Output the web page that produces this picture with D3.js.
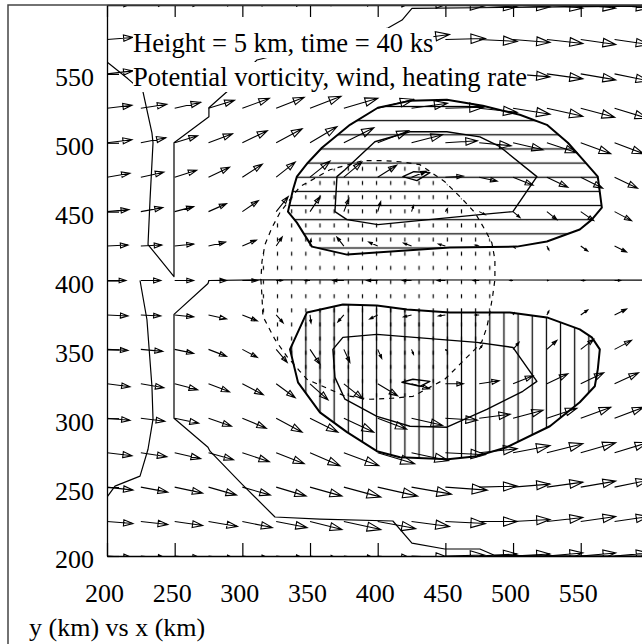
<!DOCTYPE html>
<html>
<head>
<meta charset="utf-8">
<script src="https://cdn.jsdelivr.net/npm/d3@7"></script>
<style>
  body { margin: 0; background: #fff; }
  svg { display: block; }
</style>
</head>
<body>
<svg id="chart" width="642" height="644"></svg>
<script>
// ---- grid of wind vectors (km) ----
const gridX = [200, 225, 250, 275, 300, 325, 350, 375, 400, 425, 450, 475, 500, 525, 550, 575];
const gridY = [600, 575, 550, 525, 500, 475, 450, 425, 400, 375, 350, 325, 300, 275, 250, 225, 200];

// eastward wind u (m/s), one row per gridY entry
const uWind = [
  [13, 13.5, 14, 14.5, 15, 15.5, 16, 18, 18.5, 19, 19.5, 19, 18.5, 18, 17.5, 17],
  [13, 13.5, 14, 14.5, 15, 15.5, 16, 18.5, 19, 19, 20, 19, 18.5, 18, 17.5, 17],
  [13, 13.5, 14, 14, 14, 15, 16, 18.5, 20, 20, 21, 19, 18.5, 18, 17.5, 17],
  [12.5, 13, 13, 13, 13.5, 14, 15.5, 17, 18, 18, 19, 19, 18.5, 18, 17, 16.5],
  [12.5, 12.5, 11.5, 12, 12.5, 13, 13.5, 15, 15.5, 15.5, 16, 16, 15, 15, 15, 14.5],
  [11.5, 11.5, 11, 10.5, 10, 9.5, 10, 9, 9.5, 7.5, 9, 9, 10, 10.5, 11, 11.5],
  [11, 11, 9.5, 9, 8, 6, 5, 2.5, 1.5, 1, 1, 3, 3.5, 5, 6.5, 8.5],
  [10.5, 10.5, 9.5, 8.5, 7, 3, 0.5, -3.5, -4.5, -4, -3.5, -2, 1, 1, 3.5, 6],
  [9.5, 10, 9.5, 9, 7.5, 3, -2.5, -5.5, -5.5, -4.5, -4, -3, -1.5, 0.5, 2, 3],
  [10.5, 10, 9.5, 9, 7.5, 3.5, 0.5, -3, -4, -4, -3.5, -2, 0.5, 1, 3.5, 6],
  [10.5, 11, 9.5, 9, 7.5, 5.5, 5, 3, 2, 1, 0.5, 1.5, 3, 5, 6.5, 8.5],
  [11.5, 11.5, 11.5, 10.5, 10.5, 9.5, 9, 9.5, 10, 9, 9, 10, 10, 10.5, 11.5, 12],
  [11.5, 12, 12, 11.5, 12, 13, 14, 15, 14.5, 15.5, 16, 15.5, 15, 15, 15, 14.5],
  [12.5, 13, 13, 12.5, 13.5, 14, 15, 17.5, 18.5, 18.5, 20, 19, 18.5, 18, 17.5, 16.5],
  [13, 13.5, 14, 14, 14, 15, 16, 18.5, 20, 20, 21, 19, 18.5, 18, 17.5, 17],
  [13, 13.5, 14, 14.5, 15, 15.5, 16, 18.5, 19, 19, 20, 19, 18.5, 18, 17.5, 17],
  [13, 13.5, 14, 14.5, 15, 15.5, 16, 18, 18.5, 19, 19.5, 19, 18.5, 18, 17.5, 17]
];

// northward wind v (m/s), one row per gridY entry
const vWind = [
  [1, 1.5, 1.5, 2, 2, 2, 2.5, 2.5, 2, 1, -0.5, -1, -1, -1.5, -1.5, -1.5],
  [1, 1.5, 2, 2.5, 3, 3, 4, 4, 3.5, 2.5, 0.5, -1, -1.5, -2, -2.5, -2.5],
  [1.5, 2.5, 3, 4, 4, 4.5, 4.5, 5, 4.5, 3.5, 1.5, -0.5, -1.5, -2.5, -3, -3.5],
  [1.5, 2, 3, 4, 5, 5.5, 6, 5, 4.5, 2.5, 0.5, -2, -3, -4, -4.5, -5],
  [1.5, 2.5, 3.5, 4.5, 6, 7, 8, 7.5, 6, 4, 1, -1.5, -3.5, -5, -5.5, -5.5],
  [2, 2.5, 3.5, 5, 6.5, 7.5, 8, 7.5, 6, 3, 0.5, -2, -4, -5, -5.5, -5.5],
  [1, 2, 2.5, 4, 5.5, 7.5, 7.5, 6.5, 5, 3, 1.5, -1.5, -3, -4, -4.5, -4.5],
  [0.5, 0.5, 1, 2, 3, 4.5, 3.5, 4.5, 2, 1.5, 1, 0.5, -1, -2, -2.5, -3],
  [0, 0, 0, 0, 0, 0, 0, 0, 0, 0, 0, 0, 0, 0, 0, 0],
  [-0.5, -0.5, -1, -2, -3, -4, -4, -3.5, -2, -1, -0.5, 0, 1, 2, 2.5, 3],
  [-0.5, -1, -2, -3.5, -4, -6.5, -7.5, -6.5, -4.5, -2.5, -0.5, 2, 3.5, 4.5, 5, 4.5],
  [-1.5, -2, -3, -4, -5.5, -7, -8, -7.5, -6, -2.5, 0, 1.5, 4, 5, 5.5, 5.5],
  [-1, -1.5, -2.5, -4, -5, -7, -7, -7, -5.5, -3.5, -1, 2, 4, 5, 5.5, 5.5],
  [-1.5, -2, -3, -3.5, -4.5, -5.5, -6.5, -6.5, -5.5, -4, -1, 2, 3.5, 4.5, 5, 5],
  [-1.5, -2.5, -3, -4, -4, -4.5, -4.5, -5, -4.5, -3.5, -1.5, 0.5, 1.5, 2.5, 3, 3.5],
  [-1, -1.5, -2, -2.5, -3, -3, -4, -4, -3.5, -2.5, -1, 0, 1, 2, 2.5, 2.5],
  [-1, -1.5, -1.5, -2, -2, -2, -2.5, -2.5, -2, -1, 0.5, 1, 1, 1.5, 1.5, 1.5]
];

// ---- potential vorticity contours, [x km, y km] ----
const pvContourA = [[195, 562], [200, 558.7], [215.5, 546.4], [226.6, 537], [233.2, 507.2], [234, 500], [231.8, 458.7],
  [230.3, 426.1], [249.5, 402.9], [249.5, 500], [275.3, 518.8], [275.3, 525.4], [288.6, 537], [310.8, 560.1],
  [407.6, 583.3], [418, 589.1], [425.3, 597.5], [490.3, 598.2], [610, 599.3]];
const pvContourB = [[224.4, 400], [229.5, 371.7], [233.2, 323.2], [234, 299.3], [230.3, 277.5], [224.4, 258],
  [205.9, 250.7], [200, 242.8], [195, 238]];
const pvContourC = [[610, 400.3], [313, 400.5], [275.3, 400], [274.6, 397.8], [249.5, 375.4], [249.5, 300],
  [274.6, 279], [276.1, 276.1], [299.7, 252.2], [324.1, 228.3], [357.3, 226.8], [411.2, 225.4], [425.3, 209.4],
  [449.6, 205.1], [475.5, 205.1], [486.6, 200.4], [610, 199.8]];

// ---- heating rate contours ----
const heatingUpOuter = [[340.3, 475.4], [348.4, 485.5], [358.8, 496.4], [379.5, 513], [400.1, 525.4], [423.8, 530.4],
  [451.1, 531.2], [477.7, 526.8], [505, 520.3], [525, 513], [540.5, 500], [551.6, 487.7], [562.6, 475.4],
  [565.6, 452.9], [558.2, 444.2], [549.3, 437], [525, 428.3], [502.8, 424.6], [453.3, 423.9], [377.3, 418.8],
  [351.4, 424.6], [340.3, 442], [333.7, 450], [337.4, 465.9]];
const heatingUpInner = [[369.9, 475.4], [375.8, 480.4], [397.9, 500.7], [423.8, 508], [451.1, 508], [475.5, 504.3],
  [490.3, 497.1], [517.6, 475.4], [499.9, 450], [475.5, 447.8], [400.1, 440.6], [377.3, 444.2], [368.4, 450]];
const heatingUpPeak = [[418.6, 475.4], [426.7, 479], [438.6, 478.3], [429, 472.5]];

const heatingLowOuter = [[347.7, 376.8], [374.3, 382.6], [399.4, 381.9], [421.6, 379], [453.3, 376.8], [497.6, 376.8],
  [525, 373.2], [549.3, 364.5], [558.2, 358.7], [564.1, 350], [562.6, 335.5], [560.4, 323.2], [549.3, 311.6],
  [527.2, 294.2], [495.4, 279], [473.3, 272.5], [451.8, 270.3], [416.4, 271.7], [399.4, 276.1], [377.3, 289.9],
  [357.3, 304.3], [341.1, 326.1], [335.2, 350]];
const heatingLowInner = [[366.9, 350], [374.3, 358.7], [399.4, 360.9], [473.3, 355.1], [499.9, 351.4], [517.6, 326.8],
  [507.2, 319.6], [480.6, 306.5], [451.1, 293.5], [423.8, 294.2], [399.4, 301.4], [375.8, 313.8], [368.4, 329.7]];
const heatingLowPeak = [[417.9, 326.1], [426, 328.3], [438.6, 326.8], [431.2, 323.2]];

// cooling (negative heating) region, dashed
const coolingRegion = [[313.7, 400.7], [314.5, 388.4], [315.2, 373.9], [324.1, 357.2], [332.9, 344.9], [342.5, 334.1],
  [347.7, 328.3], [374.3, 316.7], [394.2, 313.8], [410.5, 314.5], [426, 315.9], [449.6, 328.3], [457, 335.5],
  [464.4, 342.8], [471.8, 350], [477, 355.8], [480.6, 365.9], [482.9, 376.8], [485.1, 389.9], [486.6, 400.7],
  [486.6, 415.2], [484.3, 427.5], [479.2, 436.9], [471.8, 449.3], [462.9, 458.7], [449.6, 471.7], [431.2, 484.1],
  [416.4, 486.2], [405.3, 487], [389.1, 487], [364.7, 480.4], [342.5, 468.1], [327.8, 449.3], [321.9, 438.4],
  [316.7, 426.1], [314.5, 413.8]];

// ---- ticks and texts ----
const xTicks = [200, 250, 300, 350, 400, 450, 500, 550];
const yTicks = [200, 250, 300, 350, 400, 450, 500, 550];
const titleLines = ["Height = 5 km, time = 40 ks", "Potential vorticity, wind, heating rate"];
const axisCaption = "y (km) vs x (km)";

// ---- drawing ----
const FONT = "'Liberation Serif', 'Times New Roman', Times, serif";
const svg = d3.select("#chart");
const x = d3.scaleLinear().domain([200, 600]).range([107, 648.4]);
const y = d3.scaleLinear().domain([200, 600]).range([556, 5]);
const pxPerMs = 2;
const hatchStep = 14.15;

const openLine = d3.line().x(d => x(d[0])).y(d => y(d[1]));
const closedLine = d3.line().x(d => x(d[0])).y(d => y(d[1])).curve(d3.curveLinearClosed);

const defs = svg.append("defs");
defs.append("clipPath").attr("id", "plot-clip")
  .append("rect")
  .attr("x", x(200)).attr("y", y(600))
  .attr("width", x(600) - x(200)).attr("height", y(200) - y(600));

// hatch patterns
const hPat = defs.append("pattern").attr("id", "hatch-h").attr("patternUnits", "userSpaceOnUse")
  .attr("x", 0).attr("y", 248 - hatchStep / 2).attr("width", 20).attr("height", hatchStep);
hPat.append("line").attr("x1", -1).attr("x2", 21).attr("y1", hatchStep / 2).attr("y2", hatchStep / 2)
  .attr("stroke", "#000").attr("stroke-width", 1.25);

const vPat = defs.append("pattern").attr("id", "hatch-v").attr("patternUnits", "userSpaceOnUse")
  .attr("x", 320 - hatchStep / 2).attr("y", 0).attr("width", hatchStep).attr("height", 20);
vPat.append("line").attr("y1", -1).attr("y2", 21).attr("x1", hatchStep / 2).attr("x2", hatchStep / 2)
  .attr("stroke", "#000").attr("stroke-width", 1.25);

const dPat = defs.append("pattern").attr("id", "hatch-dash").attr("patternUnits", "userSpaceOnUse")
  .attr("x", 320 - hatchStep / 2).attr("y", 176).attr("width", hatchStep).attr("height", hatchStep);
dPat.append("line").attr("y1", 5).attr("y2", 9).attr("x1", hatchStep / 2).attr("x2", hatchStep / 2)
  .attr("stroke", "#000").attr("stroke-width", 1.2);

const plot = svg.append("g").attr("clip-path", "url(#plot-clip)");

// cooling region: dashed hatch and dashed outline
plot.append("path").attr("d", closedLine(coolingRegion)).attr("fill", "url(#hatch-dash)").attr("stroke", "none");

// heating regions: hatched fills
plot.append("path").attr("d", closedLine(heatingUpOuter)).attr("fill", "url(#hatch-h)").attr("stroke", "none");
plot.append("path").attr("d", closedLine(heatingLowOuter)).attr("fill", "url(#hatch-v)").attr("stroke", "none");

plot.append("path").attr("d", closedLine(coolingRegion))
  .attr("fill", "none").attr("stroke", "#000").attr("stroke-width", 1.2).attr("stroke-dasharray", "5 5");

// heating contour lines
[heatingUpOuter, heatingLowOuter].forEach(c => {
  plot.append("path").attr("d", closedLine(c)).attr("fill", "none")
    .attr("stroke", "#000").attr("stroke-width", 2).attr("stroke-linejoin", "round");
});
[heatingUpInner, heatingLowInner, heatingUpPeak, heatingLowPeak].forEach(c => {
  plot.append("path").attr("d", closedLine(c)).attr("fill", "none")
    .attr("stroke", "#000").attr("stroke-width", 1.4).attr("stroke-linejoin", "round");
});

// potential vorticity contours
[pvContourA, pvContourB, pvContourC].forEach(c => {
  plot.append("path").attr("d", openLine(c)).attr("fill", "none")
    .attr("stroke", "#000").attr("stroke-width", 1.2).attr("stroke-linejoin", "round");
});

// wind vectors
const vectors = [];
gridY.forEach((gy, r) => {
  gridX.forEach((gx, c) => {
    vectors.push({ gx, gy, u: uWind[r][c], v: vWind[r][c] });
  });
});

function arrowPath(d) {
  const x0 = x(d.gx), y0 = y(d.gy);
  const dx = d.u * pxPerMs, dy = -d.v * pxPerMs;
  const len = Math.hypot(dx, dy);
  if (len < 0.5) return "";
  const ux = dx / len, uy = dy / len;
  const x1 = x0 + dx, y1 = y0 + dy;
  const hl = 0.36 * len, hw = 0.12 * len;
  const bx = x1 - ux * hl, by = y1 - uy * hl;
  const c1x = bx - uy * hw, c1y = by + ux * hw;
  const c2x = bx + uy * hw, c2y = by - ux * hw;
  return `M${x0},${y0}L${x1},${y1}M${c1x},${c1y}L${x1},${y1}L${c2x},${c2y}Z`;
}

plot.append("g").selectAll("path").data(vectors).join("path")
  .attr("d", arrowPath)
  .attr("fill", "none").attr("stroke", "#000").attr("stroke-width", 1.1)
  .attr("stroke-linejoin", "miter");

// title lines with opaque backing
const titleG = plot.append("g");
titleLines.forEach((t, i) => {
  const g = titleG.append("g");
  const txt = g.append("text")
    .attr("x", 133).attr("y", 52 + i * 34)
    .attr("font-family", FONT).attr("font-size", 26.6).attr("fill", "#000")
    .text(t);
  const bb = txt.node().getBBox();
  g.insert("rect", "text")
    .attr("x", bb.x).attr("y", bb.y).attr("width", bb.width).attr("height", bb.height)
    .attr("fill", "#fff");
});

// axes
function styleAxis(g) {
  g.attr("font-family", FONT).attr("font-size", 26);
  g.selectAll("path.domain").attr("stroke", "#000").attr("stroke-width", 1.3);
  g.selectAll(".tick line").attr("stroke", "#000").attr("stroke-width", 1.2);
  g.selectAll(".tick text").attr("fill", "#000");
}

svg.append("g").attr("transform", `translate(0,${y(200)})`)
  .call(d3.axisBottom(x).tickValues(xTicks).tickSizeInner(-13).tickSizeOuter(0).tickPadding(27.5))
  .call(styleAxis)
  .call(g => g.selectAll(".tick text").attr("dx", -3));

svg.append("g").attr("transform", `translate(0,${y(600)})`)
  .call(d3.axisTop(x).tickValues(xTicks).tickSizeInner(-12).tickSizeOuter(0).tickFormat(() => ""))
  .call(styleAxis);

svg.append("g").attr("transform", `translate(${x(200)},0)`)
  .call(d3.axisLeft(y).tickValues(yTicks).tickSizeInner(-12).tickSizeOuter(0).tickPadding(13))
  .call(styleAxis)
  .call(g => g.selectAll(".tick text").attr("dy", "0.46em"));

// outer frame
svg.append("path").attr("d", `M8,644V${y(600)}H642`)
  .attr("fill", "none").attr("stroke", "#444").attr("stroke-width", 1.5);

// caption
svg.append("text").attr("x", 29).attr("y", 636)
  .attr("font-family", FONT).attr("font-size", 26).attr("fill", "#000")
  .text(axisCaption);
</script>
</body>
</html>
